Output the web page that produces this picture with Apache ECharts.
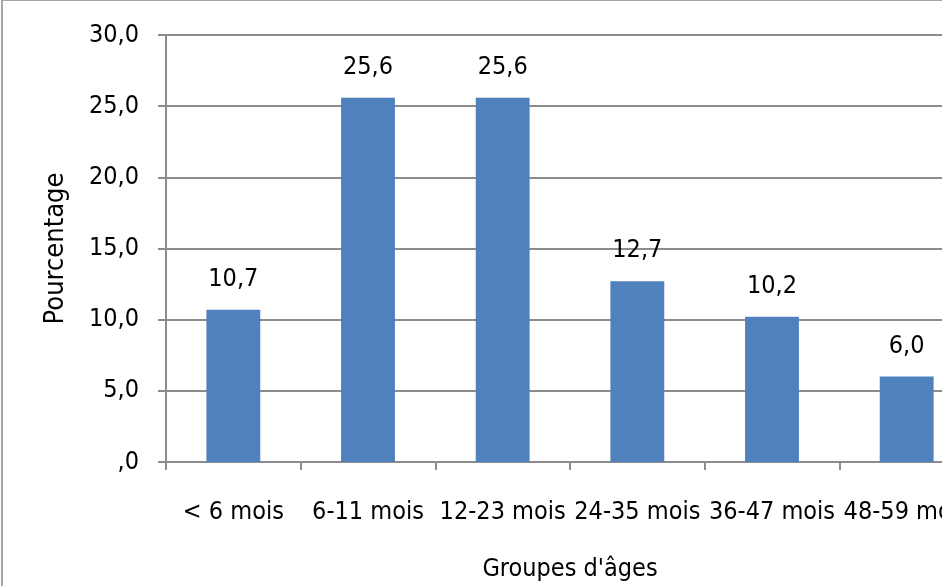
<!DOCTYPE html>
<html>
<head>
<meta charset="utf-8">
<script src="https://cdn.jsdelivr.net/npm/echarts@6/dist/echarts.min.js"></script>
<style>
  html, body { margin: 0; padding: 0; overflow: hidden; background: #fff; width: 942px; height: 586px; }
  #frame { position: absolute; left: 1px; top: -1px; width: 1000px; height: 600px;
           border-left: 2px solid #a6a6a6; border-top: 2px solid #a6a6a6; }
  #chart { width: 1000px; height: 586px; }
</style>
</head>
<body>
<div id="frame"><div id="chart"></div></div>
<script>
// Age groups and share of children per group (%)
const categories = ['< 6 mois', '6-11 mois', '12-23 mois', '24-35 mois', '36-47 mois', '48-59 mois'];
const values = [10.7, 25.6, 25.6, 12.7, 10.2, 6.0];
const yTicks = [0, 5, 10, 15, 20, 25, 30];

const FONT = '"Liberation Sans Narrow", "DejaVu Sans Condensed", "Arial Narrow", sans-serif';
const fmt = v => v === 0 ? ',0' : v.toFixed(1).replace('.', ',');
const gray = '#8c8c8c';

const chart = echarts.init(document.getElementById('chart'), null, { renderer: 'canvas' });
chart.setOption({
  animation: false,
  textStyle: { fontFamily: FONT, color: '#000' },
  grid: { left: 163, top: 34, right: 29, bottom: 124, containLabel: false },
  xAxis: {
    type: 'category',
    data: categories,
    name: "Groupes d'âges",
    nameLocation: 'middle',
    nameGap: 95,
    nameTextStyle: { fontFamily: FONT, fontSize: 25, color: '#000' },
    axisLine: { lineStyle: { color: gray, width: 2 } },
    axisTick: { show: true, length: 8, lineStyle: { color: gray, width: 2 } },
    axisLabel: { fontFamily: FONT, fontSize: 25, color: '#000', margin: 38, interval: 0 },
    splitLine: { show: false }
  },
  yAxis: {
    type: 'value',
    min: yTicks[0],
    max: yTicks[yTicks.length - 1],
    interval: yTicks[1] - yTicks[0],
    name: 'Pourcentage',
    nameLocation: 'middle',
    nameGap: 97,
    nameRotate: 90,
    nameTextStyle: { fontFamily: FONT, fontSize: 27, color: '#000' },
    axisLine: { show: true, lineStyle: { color: gray, width: 2 } },
    axisTick: { show: true, length: 8, lineStyle: { color: gray, width: 2 } },
    axisLabel: { fontFamily: FONT, fontSize: 25, color: '#000', margin: 27, formatter: fmt },
    splitLine: { show: true, lineStyle: { color: gray, width: 2 } }
  },
  series: [{
    type: 'bar',
    data: values,
    barWidth: '40%',
    itemStyle: { color: '#4f81bd' },
    label: {
      show: true,
      position: 'top',
      distance: 18,
      fontFamily: FONT,
      fontSize: 25,
      color: '#000',
      formatter: p => fmt(p.value)
    }
  }]
});
</script>
</body>
</html>
